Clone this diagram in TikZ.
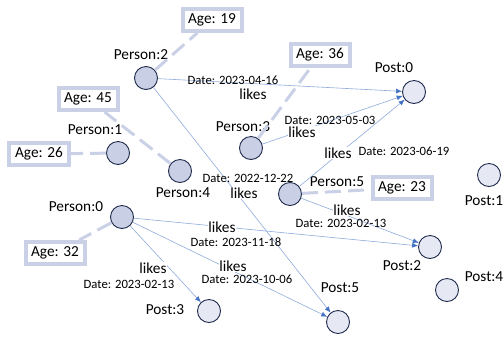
\documentclass[tikz,border=0pt]{standalone}
\usepackage{fontspec}
\setmainfont{Carlito}
\usetikzlibrary{arrows.meta}
\definecolor{nodeline}{HTML}{1F2A4D}
\definecolor{personfill}{HTML}{C9D0E5}
\definecolor{postfill}{HTML}{E6E9F4}
\definecolor{agec}{HTML}{CAD1E7}
\definecolor{likec}{HTML}{8EAADB}
\definecolor{likehead}{HTML}{4472C4}

\begin{document}
\begin{tikzpicture}[
    x=1bp, y=-1bp,
    font=\fontsize{15.3bp}{18bp}\selectfont,
    person/.style={circle, draw=nodeline, fill=personfill, line width=0.9bp,
      minimum size=23bp, inner sep=0pt},
    post/.style={person, fill=postfill},
    agebox/.style={draw=agec, line width=4bp, fill=white, minimum width=59bp,
      minimum height=22bp, inner sep=0pt},
    txt/.style={inner sep=0pt},
    lk/.style={fill=white, inner sep=0.3bp},
    dt/.style={inner sep=0pt, font=\fontsize{12.7bp}{14bp}\selectfont},
    has/.style={draw=agec, line width=3bp, dash pattern=on 16bp off 7bp},
    like/.style={draw=likec, line width=0.6bp,
      -{Latex[length=6bp,width=5bp,color=likehead]}}
  ]
    \useasboundingbox (0,0) rectangle (504,337);

    % people
    \node[person] (p0) at (122,217) {};
    \node[person] (p1) at (118,153) {};
    \node[person] (p2) at (146,78) {};
    \node[person] (p3) at (251,148) {};
    \node[person] (p4) at (180,171) {};
    \node[person] (p5) at (290,194) {};
    \node[txt] (p0lab) at (76,207) {Person:0};
    \node[txt] (p1lab) at (95,130) {Person:1};
    \node[txt] (p2lab) at (141,55) {Person:2};
    \node[txt] (p3lab) at (243,127) {Person:3};
    \node[txt] (p4lab) at (183,193) {Person:4};
    \node[txt] (p5lab) at (337,182) {Person:5};

    % posts
    \node[post] (o0) at (414,92) {};
    \node[post] (o1) at (489,175) {};
    \node[post] (o2) at (430,247) {};
    \node[post] (o3) at (209,311) {};
    \node[post] (o4) at (447,290) {};
    \node[post] (o5) at (338,322) {};
    \node[txt] (o0lab) at (394,68) {Post:0};
    \node[txt] (o1lab) at (484,201) {Post:1};
    \node[txt] (o2lab) at (402,266) {Post:2};
    \node[txt] (o3lab) at (165,310) {Post:3};
    \node[txt] (o4lab) at (484,277) {Post:4};
    \node[txt] (o5lab) at (340,288) {Post:5};

    % ages
    \node[agebox] (a19) at (212,20) {Age: 19};
    \node[agebox] (a45) at (88,99) {Age: 45};
    \node[agebox] (a26) at (39,154) {Age: 26};
    \node[agebox] (a36) at (320,55) {Age: 36};
    \node[agebox] (a23) at (402,188) {Age: 23};
    \node[agebox] (a32) at (55,253) {Age: 32};

    \draw[has] (p2) -- (a19);
    \draw[has] (p4) -- (a45);
    \draw[has] (p1) -- (a26);
    \draw[has] (p3) -- (a36);
    \draw[has] (p5) -- (a23);
    \draw[has] (p0) -- (a32);

    % likes
    \draw[like] (p2) -- (o0);
    \draw[like] (p3) -- (o0);
    \draw[like] (p5) -- (o0);
    \draw[like] (p2) -- (o5);
    \draw[like] (p5) -- (o2);
    \draw[like] (p0) -- (o2);
    \draw[like] (p0) -- (o5);
    \draw[like] (p0) -- (o3);

    \node[dt] (d1) at (233,80) {Date: 2023-04-16};
    \node[lk] (l1) at (253,94) {likes};
    \node[dt] (d2) at (330,120) {Date: 2023-05-03};
    \node[lk] (l2) at (302,132) {likes};
    \node[lk] (l3) at (338,153) {likes};
    \node[dt] (d3) at (404,151) {Date: 2023-06-19};
    \node[dt] (d4) at (248,178) {Date: 2022-12-22};
    \node[lk] (l4) at (244,193) {likes};
    \node[lk] (l5) at (347,210) {likes};
    \node[dt] (d5) at (341,223) {Date: 2023-02-13};
    \node[lk] (l6) at (222,227) {likes};
    \node[dt] (d6) at (236,242) {Date: 2023-11-18};
    \node[lk] (l7) at (233,266) {likes};
    \node[dt] (d7) at (247,279) {Date: 2023-10-06};
    \node[lk] (l8) at (153,268) {likes};
    \node[dt] (d8) at (129,284) {Date: 2023-02-13};
  \end{tikzpicture}
\end{document}
